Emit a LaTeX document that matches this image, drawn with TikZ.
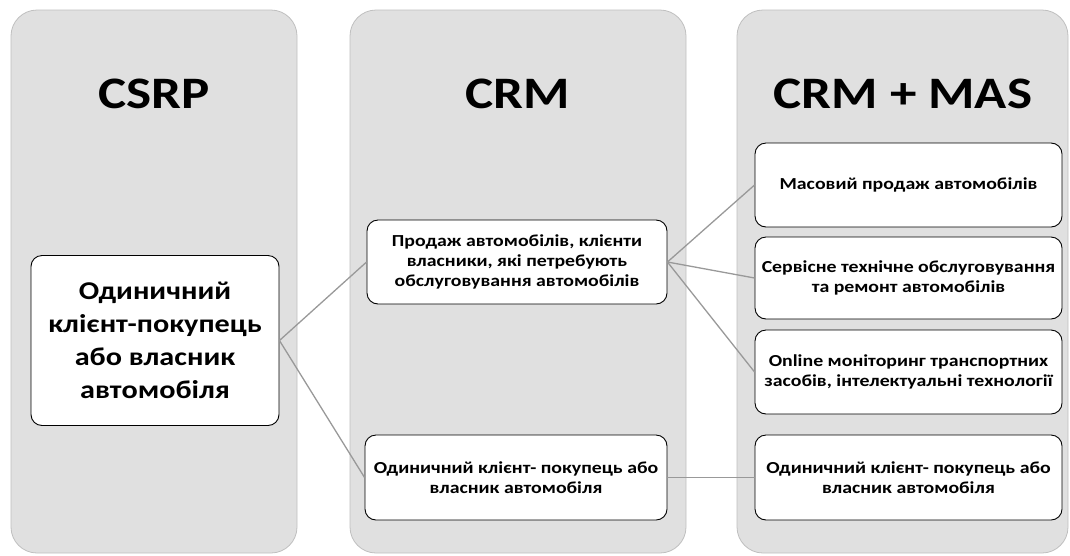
\documentclass[tikz,border=0pt]{standalone}
\usepackage{fontspec}
\setmainfont{Carlito}[FakeStretch=1.18]
\usetikzlibrary{positioning}

\begin{document}
\begin{tikzpicture}[x=1pt,y=-1pt,
  column/.style={draw=black!25, fill=black!12, line width=0.8pt, rounded corners=26pt, minimum height=543pt, inner sep=0pt},
  title/.style={anchor=base, font=\bfseries\fontsize{45}{50}\selectfont},
  card/.style={draw=black, fill=white, line width=0.9pt, rounded corners=11pt, align=center, inner sep=2pt},
  small/.style={card, font=\bfseries\fontsize{16.8}{20}\selectfont},
  link/.style={draw=black!40, line width=1.3pt}]
\useasboundingbox (0,0) rectangle (1070,555);
% columns
\node[column, minimum width=286pt] (colA) at (154,281.5) {};
\node[column, minimum width=336pt] (colB) at (518,281.5) {};
\node[column, minimum width=331pt] (colC) at (902.5,281.5) {};
\node[title] (tA) at (154,108) {CSRP};
\node[title] (tB) at (518,108) {CRM};
\node[title] (tC) at (903,108) {CRM + MAS};
% boxes
\node[card, minimum width=248pt, minimum height=170pt, font=\bfseries\fontsize{25.6}{33}\selectfont] (single) at (155,340.5)
  {Одиничний\\клієнт-покупець\\або власник\\автомобіля};
\node[small, minimum width=300pt, minimum height=84pt] (sales) at (517,262)
  {Продаж автомобілів, клієнти\\власники, які петребують\\обслуговування автомобілів};
\node[small, minimum width=302pt, minimum height=85pt] (singleB) at (516,477.5)
  {Одиничний клієнт- покупець або\\власник автомобіля};
\node[small, minimum width=307pt, minimum height=84pt] (mass) at (908.5,185)
  {Масовий продаж автомобілів};
\node[small, minimum width=307pt, minimum height=82pt] (service) at (908.5,278)
  {Сервісне технічне обслуговування\\та ремонт автомобілів};
\node[small, minimum width=307pt, minimum height=84pt] (online) at (908.5,372)
  {Online моніторинг транспортних\\засобів, інтелектуальні технології};
\node[small, minimum width=307pt, minimum height=85pt] (singleC) at (908.5,477.5)
  {Одиничний клієнт- покупець або\\власник автомобіля};
% links
\draw[link] (single.east) -- (sales.west);
\draw[link] (single.east) -- (singleB.west);
\draw[link] (sales.east) -- (mass.west);
\draw[link] (sales.east) -- (service.west);
\draw[link] (sales.east) -- (online.west);
\draw[link] (singleB.east) -- (singleC.west);
\end{tikzpicture}
\end{document}
